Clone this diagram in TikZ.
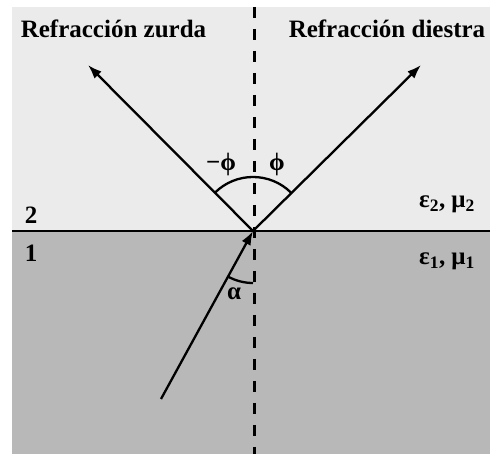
\documentclass[tikz,border=0pt]{standalone}
\usepackage{fontspec}
\setmainfont{Liberation Serif}
\usetikzlibrary{arrows.meta}
\definecolor{lightbg}{RGB}{235,235,235}
\definecolor{darkbg}{RGB}{184,184,184}

\begin{document}
\begin{tikzpicture}[x=1pt, y=1pt, every node/.style={font=\bfseries\fontsize{25}{29}\selectfont, inner sep=0pt},
    ray/.style={line width=2.3pt, -{Latex[length=14pt,width=10pt]}}]
  \useasboundingbox (0,0) rectangle (490,454);
  \fill[lightbg] (12,223) rectangle (490,447);
  \fill[darkbg] (12,0) rectangle (490,223);
  \coordinate (O)  at (253,223);
  \coordinate (S)  at (161,55);
  \coordinate (L)  at (88,389);
  \coordinate (R)  at (421,389);
  \coordinate (Nt) at (254,447);
  \coordinate (Nb) at (254,0);
  \coordinate (Il) at (12,223);
  \coordinate (Ir) at (490,223);
  \node[anchor=base] (zurda)   at (113.5,416) {Refracción zurda};
  \node[anchor=base] (diestra) at (387,416) {Refracción diestra};
  \node[anchor=base] (m2) at (31,230) {2};
  \node[anchor=base] (m1) at (31,192) {1};
  \node[anchor=base] (eps2) at (447,246) {ε\textsubscript{2}, μ\textsubscript{2}};
  \node[anchor=base] (eps1) at (447,189) {ε\textsubscript{1}, μ\textsubscript{1}};
  \node (mphi) at (221,290) {−ϕ};
  \node (phi)  at (277,290) {ϕ};
  \node (alpha) at (234,160) {α};
  \draw[line width=2.5pt] (Il) -- (Ir);
  \draw[line width=3pt, dash pattern=on 11pt off 11pt] (Nt) -- (Nb);
  \draw[ray] (S) -- (O);
  \draw[ray] (O) -- (L);
  \draw[ray] (O) -- (R);
  \draw[line width=2.3pt] (O) ++(45:54) arc[start angle=45, end angle=135, radius=54];
  \draw[line width=2.3pt] (O) ++(241.3:52) arc[start angle=241.3, end angle=270, radius=52];
\end{tikzpicture}
\end{document}
